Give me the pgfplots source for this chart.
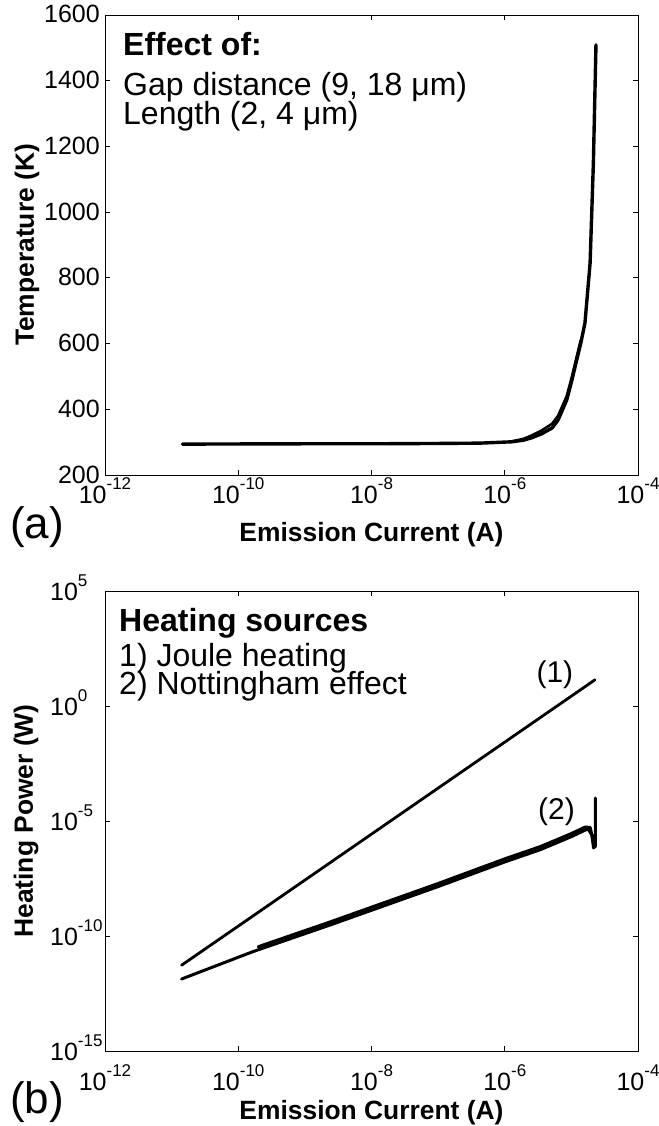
\documentclass[border=0pt]{standalone}
\usepackage{pgfplots}
\pgfplotsset{compat=1.18}
\usepackage{fontspec}
\setmainfont{Liberation Sans}

% power-of-ten tick label in text font
\newcommand{\pw}[1]{10\raisebox{14pt}{\fontsize{17}{17}\selectfont #1}}

\pgfplotsset{
  panelbase/.style={
    scale only axis, width=533pt, height=460pt,
    xmin=1e-12, xmax=1e-4,
    xtick={1e-12,1e-10,1e-8,1e-6,1e-4},
    xticklabels={\pw{-12},\pw{-10},\pw{-8},\pw{-6},\pw{-4}},
    xminorticks=false, yminorticks=false,
    tick align=inside, major tick length=5pt,
    axis line style={line width=0.9pt},
    every tick/.style={black, line width=0.9pt},
    tick label style={font=\fontsize{25}{25}\selectfont, inner sep=0pt},
    every axis x label/.style={font=\fontsize{26.4}{26.4}\selectfont\bfseries,
      anchor=base, inner sep=0pt},
    every axis y label/.style={font=\fontsize{26.4}{26.4}\selectfont\bfseries,
      anchor=center, rotate=90, inner sep=0pt},
    clip=false,
  },
  curve/.style={black, line width=2.8pt, line join=round, line cap=round},
}

\begin{document}
\begin{tikzpicture}
\useasboundingbox (0pt,0pt) rectangle (658pt,-1126pt);

% ---------------- (a) temperature ----------------
\begin{axis}[xmode=log, panelbase,
  at={(105pt,-475pt)}, anchor=south west,
  ymin=200, ymax=1600, ytick={200,400,600,800,1000,1200,1400,1600},
  yticklabels={200,400,600,800,1000,1200,1400,1600},
  xticklabel style={anchor=base, yshift=-28pt},
  yticklabel style={anchor=base east, xshift=-5pt, yshift=-8pt},
  xlabel={Emission Current (A)},
  ylabel={Temperature (K)},
  xlabel style={at={(rel axis cs:0.5,-0.1435)}},
  ylabel style={at={(rel axis cs:-0.1463,0.5)}},
]
\addplot[curve, line width=3.4pt] coordinates {
  (1.45e-11,294) (1e-10,294.5) (1e-9,295) (1e-8,295) (1e-7,296)
  (4.27e-7,297) (1.26e-6,301) (1.91e-6,306) (2.51e-6,313) (3.55e-6,325)
  (5.13e-6,343) (6.31e-6,367) (8.51e-6,428) (1.02e-5,489) (1.17e-5,540)
  (1.38e-5,600) (1.60e-5,663) (1.91e-5,845) (2.14e-5,1150) (2.34e-5,1509)
};
\addplot[curve, line width=2.6pt] coordinates {
  (1.26e-6,302) (1.91e-6,310) (2.51e-6,320) (3.55e-6,335)
  (5.13e-6,356) (6.31e-6,380) (8.51e-6,440) (1.02e-5,500) (1.17e-5,550)
  (1.38e-5,610)
};
\node[anchor=base west, font=\fontsize{32}{32}\selectfont\bfseries, inner sep=0pt]
  at (rel axis cs:0.0338,0.913) {Effect of:};
\node[anchor=base west, font=\fontsize{32}{32}\selectfont, inner sep=0pt]
  at (rel axis cs:0.0338,0.826) {Gap distance (9, 18 μm)};
\node[anchor=base west, font=\fontsize{32}{32}\selectfont, inner sep=0pt]
  at (rel axis cs:0.0338,0.763) {Length (2, 4 μm)};
\node[anchor=base west, font=\fontsize{44}{44}\selectfont, inner sep=0pt]
  at (rel axis cs:-0.178,-0.137) {(a)};
\end{axis}

% ---------------- (b) heating power ----------------
\begin{axis}[xmode=log, ymode=log, panelbase,
  at={(105pt,-1051pt)}, anchor=south west,
  ymin=1e-15, ymax=1e5,
  ytick={1e-15,1e-10,1e-5,1,1e5},
  yticklabels={\pw{-15},\pw{-10},\pw{-5},\pw{0},\pw{5}},
  xticklabel style={anchor=base, yshift=-39pt},
  yticklabel style={anchor=base west, xshift=-55pt, yshift=-9pt},
  xlabel={Emission Current (A)},
  ylabel={Heating Power (W)},
  xlabel style={at={(rel axis cs:0.5,-0.1478)}},
  ylabel style={at={(rel axis cs:-0.148,0.5)}},
]
% (1) Joule heating
\addplot[curve, line width=2.8pt] coordinates {
  (1.41e-11,5.37e-12) (1e-10,2.69e-10) (1e-9,2.69e-8) (1e-8,2.69e-6)
  (1e-7,2.69e-4) (1e-6,0.0269) (1e-5,2.69) (2.26e-5,13.8)
};
% (2) Nottingham effect
\addplot[curve, line width=3pt] coordinates {
  (1.41e-11,1.35e-12) (1.66e-10,2.09e-11) (2.40e-9,3.02e-10) (1e-7,1.41e-8)
  (1e-6,1.66e-7) (3.39e-6,5.62e-7) (1e-5,2.09e-6) (1.60e-5,3.98e-6)
  (1.78e-5,4.47e-6) (2.04e-5,2.45e-6)
  (2.15e-5,6.76e-7) (2.29e-5,7.9e-7) (2.30e-5,1e-4)
};
\addplot[curve, line width=3.2pt] coordinates {
  (2.0e-10,3.40e-11) (2.40e-9,4.07e-10) (1e-7,1.90e-8) (1e-6,2.24e-7)
  (3.39e-6,7.59e-7) (1e-5,2.82e-6)
  (1.60e-5,5.37e-6) (1.91e-5,5.25e-6) (2.09e-5,1.66e-6) (2.16e-5,1e-6)
};
\node[anchor=base west, font=\fontsize{32}{32}\selectfont\bfseries, inner sep=0pt]
  at (rel axis cs:0.0263,0.911) {Heating sources};
\node[anchor=base west, font=\fontsize{32}{32}\selectfont, inner sep=0pt]
  at (rel axis cs:0.0263,0.835) {1) Joule heating};
\node[anchor=base west, font=\fontsize{32}{32}\selectfont, inner sep=0pt]
  at (rel axis cs:0.0263,0.774) {2) Nottingham effect};
\node[font=\fontsize{30}{30}\selectfont, inner sep=0pt]
  at (rel axis cs:0.844,0.817) {(1)};
\node[font=\fontsize{30}{30}\selectfont, inner sep=0pt]
  at (rel axis cs:0.847,0.521) {(2)};
\node[anchor=base west, font=\fontsize{44}{44}\selectfont, inner sep=0pt]
  at (rel axis cs:-0.178,-0.135) {(b)};
\end{axis}
\end{tikzpicture}
\end{document}
